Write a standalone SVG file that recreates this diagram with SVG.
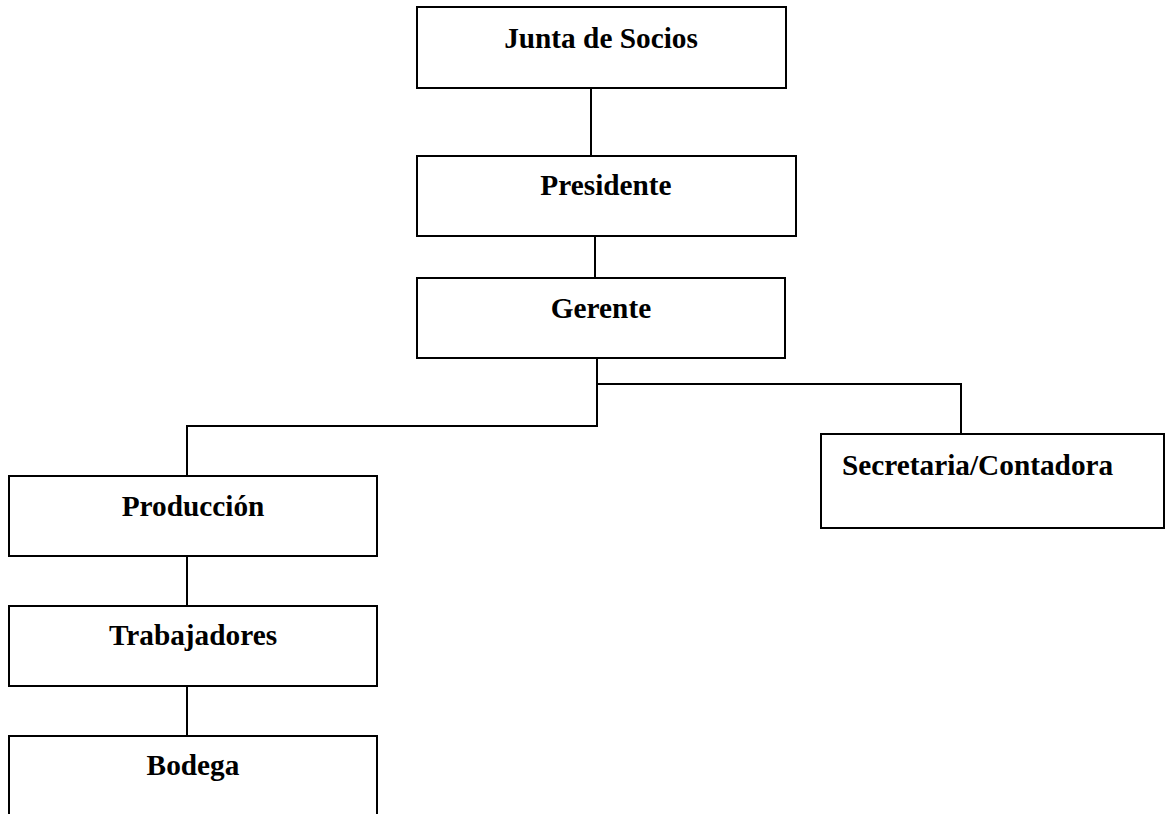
<svg xmlns="http://www.w3.org/2000/svg" width="1167" height="814" viewBox="0 0 1167 814">
<style>
.box{fill:#fff;stroke:#000;stroke-width:2}
.lbl{font-family:"Liberation Serif","Times New Roman",serif;font-weight:bold;font-size:29.3px;fill:#000}
.c{text-anchor:middle}
.con{fill:none;stroke:#000;stroke-width:2}
</style>
<rect width="1167" height="814" fill="#fff"/>
<g id="connectors">
<path class="con" d="M591 88V156"/>
<path class="con" d="M595 236V278"/>
<path class="con" d="M597 358V426H187V476"/>
<path class="con" d="M597 384H961V434"/>
<path class="con" d="M187 556V606"/>
<path class="con" d="M187 686V736"/>
</g>
<g id="junta">
<rect class="box" x="417" y="7" width="369" height="81"/>
<text class="lbl c" x="601" y="48">Junta de Socios</text>
</g>
<g id="presidente">
<rect class="box" x="417" y="156" width="379" height="80"/>
<text class="lbl c" x="606" y="195">Presidente</text>
</g>
<g id="gerente">
<rect class="box" x="417" y="278" width="368" height="80"/>
<text class="lbl c" x="601" y="318">Gerente</text>
</g>
<g id="secretaria">
<rect class="box" x="821" y="434" width="343" height="94"/>
<text class="lbl" x="842" y="475">Secretaria/Contadora</text>
</g>
<g id="produccion">
<rect class="box" x="9" y="476" width="368" height="80"/>
<text class="lbl c" x="193" y="516">Producción</text>
</g>
<g id="trabajadores">
<rect class="box" x="9" y="606" width="368" height="80"/>
<text class="lbl c" x="193" y="645">Trabajadores</text>
</g>
<g id="bodega">
<rect class="box" x="9" y="736" width="368" height="90"/>
<text class="lbl c" x="193" y="775">Bodega</text>
</g>
</svg>
